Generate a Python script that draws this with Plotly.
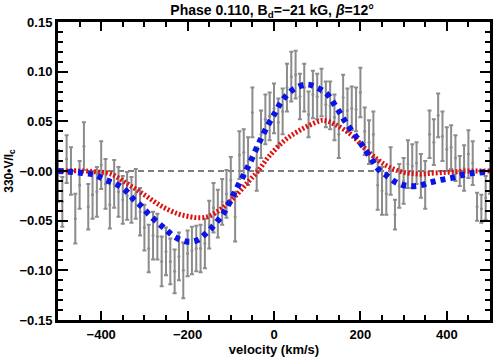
import plotly.graph_objects as go

# Observed Stokes V profile (velocity grid in km/s, scaled V/Ic and its errors)
velocity = [
    -500, -490, -480, -470, -460, -450, -440, -430, -420, -410,
    -400, -390, -380, -370, -360, -350, -340, -330, -320, -310,
    -300, -290, -280, -270, -260, -250, -240, -230, -220, -210,
    -200, -190, -180, -170, -160, -150, -140, -130, -120, -110,
    -100, -90, -80, -70, -60, -50, -40, -30, -20, -10,
    0, 10, 20, 30, 40, 50, 60, 70, 80, 90,
    100, 110, 120, 130, 140, 150, 160, 170, 180, 190,
    200, 210, 220, 230, 240, 250, 260, 270, 280, 290,
    300, 310, 320, 330, 340, 350, 360, 370, 380, 390,
    400, 410, 420, 430, 440, 450, 460, 470, 480, 490,
    500,
]
stokes_v = [
    -0.005, -0.031, 0.012, 0.000, -0.048, -0.014, 0.025, -0.036, -0.024, -0.021,
    0.006, -0.013, -0.034, -0.013, -0.021, -0.029, -0.025, -0.029, -0.023, -0.041,
    -0.057, -0.078, -0.065, -0.066, -0.091, -0.081, -0.091, -0.101, -0.086, -0.100,
    -0.083, -0.080, -0.078, -0.078, -0.073, -0.054, -0.037, -0.043, -0.031, -0.023,
    -0.009, -0.046, 0.016, 0.019, 0.010, 0.059, 0.002, 0.037, 0.052, 0.055,
    0.063, 0.049, 0.060, 0.084, 0.095, 0.097, 0.075, 0.084, 0.057, 0.077,
    0.075, 0.079, 0.067, 0.066, 0.054, 0.037, 0.074, 0.061, 0.063, 0.062,
    0.079, 0.040, 0.029, 0.037, -0.014, -0.020, -0.023, 0.000, -0.044, -0.015,
    -0.010, 0.007, 0.005, 0.008, -0.005, -0.014, 0.037, 0.029, 0.056, 0.035,
    0.022, 0.024, 0.013, 0.000, 0.003, 0.017, 0.008, -0.036, -0.038, -0.027,
    0.000,
]
stokes_err = [
    0.026, 0.025, 0.024, 0.024, 0.025, 0.024, 0.024, 0.023, 0.024, 0.025,
    0.024, 0.025, 0.024, 0.024, 0.025, 0.024, 0.024, 0.023, 0.025, 0.024,
    0.023, 0.024, 0.024, 0.023, 0.025, 0.024, 0.023, 0.022, 0.024, 0.028,
    0.023, 0.024, 0.023, 0.024, 0.025, 0.024, 0.025, 0.024, 0.023, 0.024,
    0.023, 0.025, 0.024, 0.023, 0.024, 0.025, 0.022, 0.024, 0.025, 0.024,
    0.025, 0.024, 0.023, 0.024, 0.025, 0.024, 0.023, 0.024, 0.023, 0.024,
    0.023, 0.024, 0.023, 0.024, 0.023, 0.024, 0.023, 0.022, 0.022, 0.022,
    0.025, 0.024, 0.022, 0.023, 0.025, 0.024, 0.021, 0.024, 0.015, 0.022,
    0.023, 0.024, 0.022, 0.021, 0.022, 0.024, 0.024, 0.023, 0.022, 0.025,
    0.022, 0.022, 0.023, 0.015, 0.023, 0.024, 0.022, 0.014, 0.014, 0.022,
    0.023,
]

# Dipole model profiles
blue_v = [-500, -444, -414, -390, -366, -345, -326, -308, -289, -269, -250, -231,
          -203, -179, -153, -134, -116, -93, -69, -56, -35, -13, 3, 16, 33, 52,
          78, 104, 124, 140, 155, 169, 196, 227, 241, 262, 285, 308, 333, 358,
          386, 411, 436, 462, 489, 500]
blue_model = [0.000, -0.002, -0.004, -0.009, -0.013, -0.019, -0.028, -0.035,
              -0.044, -0.052, -0.059, -0.066, -0.071, -0.070, -0.061, -0.052,
              -0.042, -0.023, -0.003, 0.008, 0.028, 0.047, 0.059, 0.069, 0.078,
              0.084, 0.087, 0.083, 0.077, 0.067, 0.057, 0.047, 0.031, 0.011,
              0.002, -0.005, -0.012, -0.015, -0.015, -0.012, -0.009, -0.007,
              -0.004, -0.002, -0.001, 0.000]

red_v = [-500, -440, -409, -378, -339, -300, -262, -223, -195, -176, -153, -122,
         -91, -60, -37, -13, 25, 64, 103, 115, 141, 180, 219, 258, 297, 335,
         374, 412, 450, 500]
red_model = [0.000, 0.000, -0.001, -0.003, -0.013, -0.024, -0.035, -0.043,
             -0.046, -0.047, -0.046, -0.038, -0.026, -0.011, 0.000, 0.014,
             0.031, 0.042, 0.050, 0.051, 0.047, 0.036, 0.019, 0.006, -0.001,
             -0.003, -0.002, -0.001, 0.000, 0.000]

x_ticks = [-400, -200, 0, 200, 400]
x_labels = ["\u2212400", "\u2212200", "0", "200", "400"]
y_ticks = [-0.15, -0.10, -0.05, 0.0, 0.05, 0.10, 0.15]
y_labels = ["\u22120.15", "\u22120.10", "\u22120.05", "\u22120.00",
            "0.05", "0.10", "0.15"]

font_family = "Liberation Sans"

fig = go.Figure()

fig.add_trace(go.Scatter(
    x=[-500, 500], y=[0, 0], mode="lines",
    line=dict(color="black", width=1, dash="6px,4px"),
    hoverinfo="skip", showlegend=False,
))

fig.add_trace(go.Scatter(
    x=velocity, y=stokes_v, mode="markers",
    marker=dict(color="#8c8c8c", size=3),
    error_y=dict(type="data", array=stokes_err, color="#8c8c8c",
                 thickness=2, width=2),
    showlegend=False,
))

fig.add_trace(go.Scatter(
    x=red_v, y=red_model, mode="lines", line_shape="spline",
    line=dict(color="#dd1111", width=5, dash="2px,2px"),
    showlegend=False,
))

fig.add_trace(go.Scatter(
    x=blue_v, y=blue_model, mode="lines", line_shape="spline",
    line=dict(color="#0a14e6", width=6, dash="5px,5px"),
    showlegend=False,
))

# invisible trace so the mirrored top/right axes get drawn
fig.add_trace(go.Scatter(
    x=[-500, 500], y=[-0.15, 0.15], mode="markers", xaxis="x2", yaxis="y2",
    marker=dict(opacity=0), hoverinfo="skip", showlegend=False,
))

bold_font = dict(family=font_family, size=13, color="black", weight="bold")

axis_common = dict(
    showgrid=False, zeroline=False, showline=True, linecolor="black",
    linewidth=3, ticks="inside", tickcolor="black",
    tickwidth=2, automargin=False, tickfont=bold_font,
)

fig.update_layout(
    xaxis=dict(
        range=[-500, 500], tickmode="array", tickvals=x_ticks,
        ticktext=x_labels, ticklen=9,
        minor=dict(dtick=50, ticks="inside", ticklen=5, tickwidth=2,
                   tickcolor="black"),
        title=dict(text="velocity (km/s)", standoff=2, font=bold_font),
        **axis_common,
    ),
    xaxis2=dict(
        range=[-500, 500], overlaying="x", side="top", anchor="y",
        tickmode="array", tickvals=x_ticks, showticklabels=False, ticklen=9,
        minor=dict(dtick=50, ticks="inside", ticklen=5, tickwidth=2,
                   tickcolor="black"),
        **axis_common,
    ),
    yaxis=dict(
        range=[-0.15, 0.15], tickmode="array", tickvals=y_ticks,
        ticktext=y_labels, ticklen=10,
        minor=dict(dtick=0.01, ticks="inside", ticklen=5, tickwidth=2,
                   tickcolor="black"),
        title=dict(text="330\u2022V/I<sub>c</sub>", standoff=4,
                   font=dict(family=font_family, size=12, color="black",
                             weight="bold")),
        **axis_common,
    ),
    yaxis2=dict(
        range=[-0.15, 0.15], overlaying="y", side="right", anchor="x",
        tickmode="array", tickvals=y_ticks, showticklabels=False, ticklen=10,
        minor=dict(dtick=0.01, ticks="inside", ticklen=5, tickwidth=2,
                   tickcolor="black"),
        **axis_common,
    ),
)

fig.update_layout(
    width=504, height=360,
    margin=dict(l=58, r=14, t=22, b=40),
    paper_bgcolor="white", plot_bgcolor="white",
    title=dict(
        text="Phase 0.110, B<sub>d</sub>=\u221221 kG, <i>\u03b2</i>=12\u00b0",
        x=0.54, xanchor="center", y=0.985, yanchor="top",
        font=dict(family=font_family, size=14, color="black", weight="bold"),
    ),
)

# drop the browser's default page margin so the figure fills the window
fig.write_html("out.html", config={"displayModeBar": False},
               post_script="document.body.style.margin = '0';")
